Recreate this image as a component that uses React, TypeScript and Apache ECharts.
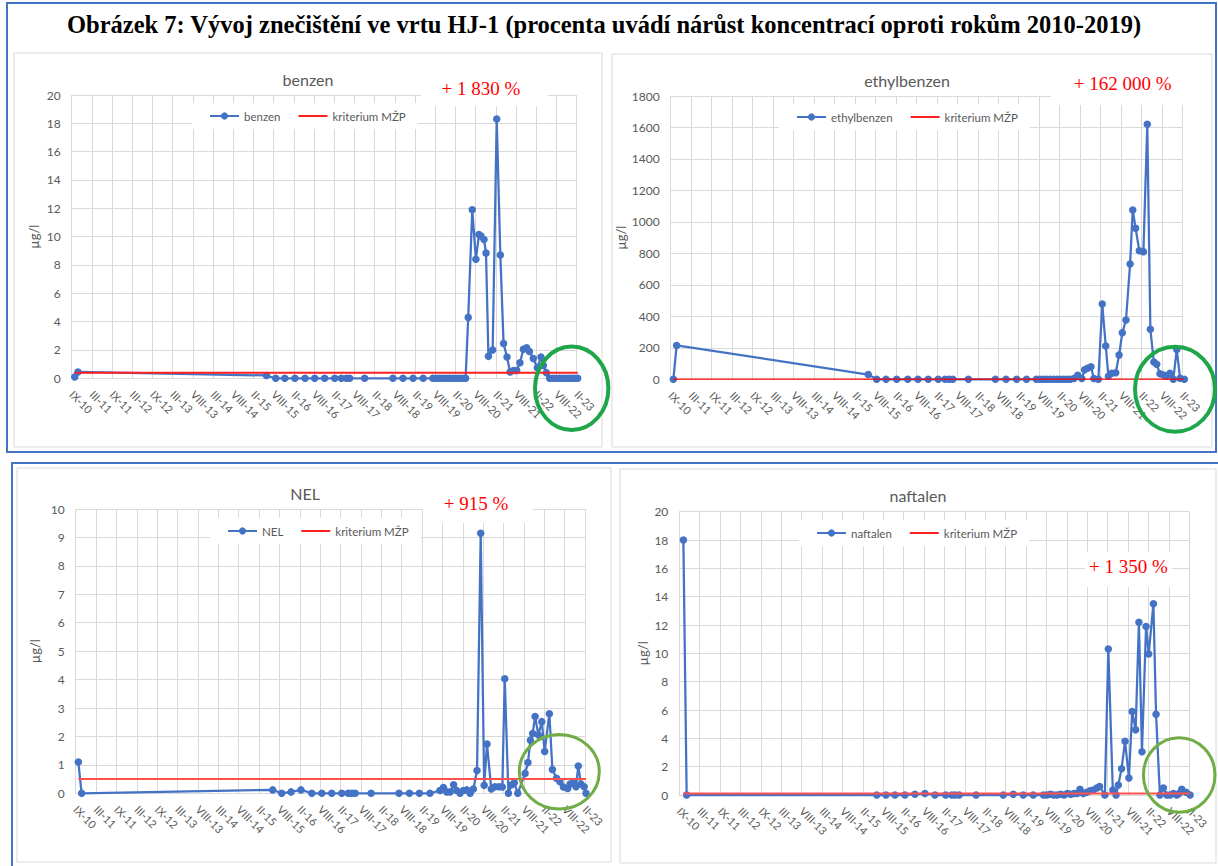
import React, { useEffect, useRef } from "react";
import * as echarts from "echarts";

// x tick labels (one per half-year step on the date axis)
const xTickLabels = [
  "IX-10", "III-11", "IX-11", "III-12", "IX-12", "III-13", "VIII-13", "III-14", "VIII-14",
  "II-15", "VIII-15", "II-16", "VIII-16", "II-17", "VIII-17", "II-18", "VIII-18", "II-19",
  "VIII-19", "II-20", "VIII-20", "II-21", "VIII-21", "II-22", "VIII-22", "II-23",
];

// [position on the date axis (tick units), concentration µg/l]
const benzen: [number, number][] = [
  [0.15, 0.1], [0.31, 0.45], [9.64, 0.2], [10.1, 0], [10.55, 0], [11.05, 0], [11.55, 0], [12.03, 0],
  [12.52, 0], [13.02, 0], [13.35, 0], [13.6, 0], [13.76, 0], [14.5, 0], [15.9, 0], [16.4, 0], [16.9, 0],
  [17.4, 0], [17.88, 0], [18.05, 0], [18.21, 0], [18.38, 0], [18.55, 0], [18.7, 0], [18.87, 0], [19.03, 0],
  [19.2, 0], [19.36, 0], [19.5, 0], [19.63, 4.3], [19.83, 11.9], [20.01, 8.4], [20.16, 10.15], [20.26, 10.05],
  [20.41, 9.8], [20.51, 8.85], [20.63, 1.55], [20.84, 2.0], [21.04, 18.3], [21.22, 8.7], [21.38, 2.45],
  [21.55, 1.5], [21.7, 0.45], [21.87, 0.55], [22.03, 0.55], [22.19, 1.1], [22.36, 2.05], [22.52, 2.15],
  [22.66, 1.9], [22.85, 1.4], [23.05, 0.75], [23.23, 1.5], [23.35, 0.9], [23.5, 0.4], [23.66, 0], [23.82, 0],
  [23.98, 0], [24.15, 0], [24.3, 0], [24.45, 0], [24.6, 0], [24.75, 0], [24.9, 0], [25.05, 0],
];

const ethylbenzen: [number, number][] = [
  [0.13, 0], [0.29, 215], [9.65, 30], [10.06, 0], [10.52, 0], [11.04, 0], [11.58, 0], [12.08, 0], [12.58, 0],
  [13.07, 0], [13.4, 0], [13.6, 0], [13.78, 0], [14.54, 0], [15.86, 0], [16.38, 0], [16.9, 0], [17.38, 0],
  [17.86, 0], [18.03, 0], [18.2, 0], [18.37, 0], [18.53, 0], [18.7, 0], [18.87, 0], [19.03, 0], [19.2, 0],
  [19.36, 0], [19.52, 0], [19.7, 5], [19.88, 25], [20.08, 5], [20.22, 60], [20.36, 70], [20.53, 80],
  [20.67, 5], [20.89, 0], [21.08, 478], [21.25, 212], [21.38, 20], [21.54, 38], [21.74, 42], [21.9, 154],
  [22.06, 296], [22.24, 377], [22.44, 733], [22.57, 1076], [22.71, 959], [22.89, 817], [23.09, 811],
  [23.28, 1620], [23.43, 318], [23.6, 110], [23.74, 95], [23.9, 35], [24.07, 27], [24.23, 21], [24.39, 38],
  [24.55, 0], [24.72, 190], [24.88, 6], [25.09, 0],
];

const nel: [number, number][] = [
  [0.13, 1.1], [0.29, 0], [9.67, 0.12], [10.11, 0], [10.57, 0.05], [11.06, 0.12], [11.59, 0], [12.08, 0],
  [12.57, 0], [13.06, 0], [13.38, 0], [13.55, 0], [13.72, 0], [14.5, 0], [15.87, 0], [16.38, 0], [16.87, 0],
  [17.39, 0], [17.88, 0.1], [18.05, 0.2], [18.21, 0.05], [18.38, 0.05], [18.55, 0.3], [18.7, 0.1], [18.87, 0],
  [19.03, 0.1], [19.2, 0.12], [19.36, 0], [19.52, 0.15], [19.7, 0.8], [19.88, 9.15], [20.05, 0.28],
  [20.19, 1.73], [20.4, 0.15], [20.58, 0.23], [20.78, 0.23], [20.94, 0.22], [21.06, 4.03], [21.24, 0],
  [21.4, 0.3], [21.53, 0.37], [21.7, 0], [22.06, 0.7], [22.2, 1.08], [22.32, 1.87], [22.43, 2.1],
  [22.55, 2.7], [22.71, 2.05], [22.88, 2.52], [23.02, 1.47], [23.25, 2.8], [23.4, 0.84], [23.6, 0.53],
  [23.77, 0.41], [23.94, 0.22], [24.15, 0.17], [24.27, 0.33], [24.43, 0.41], [24.56, 0.23], [24.67, 0.96],
  [24.8, 0.33], [24.96, 0.23], [25.05, 0],
];

const naftalen: [number, number][] = [
  [0.2, 18.0], [0.36, 0], [9.68, 0], [10.13, 0], [10.57, 0], [11.06, 0], [11.55, 0.05], [12.04, 0.1],
  [12.53, 0], [13.06, 0], [13.36, 0], [13.52, 0], [13.72, 0], [14.55, 0], [15.88, 0], [16.37, 0.05],
  [16.86, 0], [17.35, 0], [17.85, 0], [18.02, 0], [18.19, 0.05], [18.36, 0], [18.52, 0], [18.69, 0.05],
  [18.86, 0], [19.02, 0.1], [19.19, 0.05], [19.35, 0.1], [19.5, 0.1], [19.64, 0.4], [19.8, 0.1],
  [19.97, 0.2], [20.14, 0.3], [20.3, 0.35], [20.47, 0.5], [20.6, 0.6], [20.86, 0], [21.03, 10.3],
  [21.25, 0.35], [21.41, 0], [21.52, 0.7], [21.68, 1.85], [21.85, 3.8], [22.04, 1.2], [22.2, 5.9],
  [22.37, 4.6], [22.53, 12.2], [22.68, 3.05], [22.88, 11.9], [23.01, 9.95], [23.24, 13.5], [23.37, 5.7],
  [23.56, 0], [23.73, 0.5], [23.9, 0], [24.06, 0], [24.22, 0.1], [24.39, 0], [24.5, 0.1], [24.63, 0.4],
  [24.84, 0.2], [25.04, 0],
];

// criterion (kriterium MŽP) values
const criteria = [0.4, 1, 0.5, 0.1];
const seriesNames = ["benzen", "ethylbenzen", "NEL", "naftalen"];
const increases = ["+ 1 830 %", "+ 162 000 %", "+ 915 %", "+ 1 350 %"];
const yMaxes = [20, 1800, 10, 20];
const ySteps = [2, 200, 1, 2];
const mainTitle =
  "Obrázek 7: Vývoj znečištění ve vrtu HJ-1 (procenta uvádí nárůst koncentrací oproti rokům 2010-2019)";
const critName = "kriterium MŽP";
const unitName = "µg/l";

const allData = [benzen, ethylbenzen, nel, naftalen];

// layout (positions / styles only)
const layout = [
  { gl: 71.7, gt: 95, gw: 505, gh: 283.3, nameGap: 31, lgL: 192, lgT: 103, critW: 2, critC: "#ff2020",
    panel: [14, 53, 588, 394], titleX: 308, titleY: 79,
    box: [421, 71, 127, 35], txt: [481, 88], ell: [571.7, 388.3, 36.7, 41.7], ellC: "#1fa64a", ellW: 4 },
  { gl: 670.7, gt: 96, gw: 511.8, gh: 283.3, nameGap: 39, lgL: 779, lgT: 104, critW: 1.2, critC: "#ff0000",
    panel: [612, 54, 600, 393], titleX: 907, titleY: 80,
    box: [1051, 68, 140, 37], txt: [1122.7, 83.3], ell: [1175, 389.2, 40, 42.5], ellC: "#1fa64a", ellW: 4 },
  { gl: 75.7, gt: 509, gw: 509.3, gh: 284.3, nameGap: 34, lgL: 210, lgT: 518, critW: 2, critC: "#ff5050",
    panel: [17, 468, 594, 394], titleX: 305, titleY: 493,
    box: [423, 488, 110, 35], txt: [476, 503.3], ell: [559.3, 771.7, 40, 37.3], ellC: "#70ad47", ellW: 3 },
  { gl: 679.3, gt: 511.7, gw: 510, gh: 283.3, nameGap: 30, lgL: 799, lgT: 520, critW: 2, critC: "#ff5050",
    panel: [620, 469, 596, 394], titleX: 918, titleY: 495,
    box: [1085, 552, 87, 35], txt: [1128.5, 566.7], ell: [1179.2, 775, 35.8, 37.3], ellC: "#70ad47", ellW: 3 },
];

const GREY = "#595959";
const GRID = "#d9d9d9";
const BLUE = "#4472c4";
const CLEAR = "rgba(0,0,0,0)";

export default function App() {
  const ref = useRef<HTMLDivElement>(null);
  useEffect(() => {
    const chart = echarts.init(ref.current!, null, { renderer: "svg" });
    const graphic: any[] = [];
    // frames
    graphic.push({ type: "rect", z: 1, shape: { x: 7, y: 3, width: 1209, height: 449 },
      style: { fill: "none", stroke: BLUE, lineWidth: 2 } });
    graphic.push({ type: "rect", z: 1, shape: { x: 12, y: 463, width: 1215, height: 420 },
      style: { fill: "none", stroke: BLUE, lineWidth: 2 } });
    graphic.push({ type: "text", z: 100, x: 604, y: 24,
      style: { text: mainTitle, fill: "#000", font: "bold 24.5px 'Liberation Serif'", textAlign: "center",
        textVerticalAlign: "middle", align: "center", verticalAlign: "middle" } });
    layout.forEach((l, i) => {
      graphic.push({ type: "rect", z: 1, shape: { x: l.panel[0], y: l.panel[1], width: l.panel[2], height: l.panel[3] },
        style: { fill: "none", stroke: GRID, lineWidth: 1 } });
      graphic.push({ type: "text", z: 100, x: l.titleX, y: l.titleY,
        style: { text: seriesNames[i], fill: GREY, font: "16px Lato", textAlign: "center", textVerticalAlign: "middle",
          align: "center", verticalAlign: "middle" } });
      graphic.push({ type: "rect", z: 90, shape: { x: l.box[0], y: l.box[1], width: l.box[2], height: l.box[3] },
        style: { fill: "#fff" } });
      graphic.push({ type: "text", z: 100, x: l.txt[0], y: l.txt[1],
        style: { text: increases[i], fill: "#ff0000", font: "19px 'Liberation Serif'", textAlign: "center",
          textVerticalAlign: "middle", align: "center", verticalAlign: "middle" } });
      graphic.push({ type: "ellipse", z: 110, shape: { cx: l.ell[0], cy: l.ell[1], rx: l.ell[2], ry: l.ell[3] },
        style: { fill: "none", stroke: l.ellC, lineWidth: l.ellW } });
    });

    const series: any[] = [];
    allData.forEach((d, i) => {
      const l = layout[i];
      series.push({
        type: "line", name: seriesNames[i], xAxisIndex: i, yAxisIndex: i, data: d,
        symbol: "circle", symbolSize: 7.5, clip: false, z: 3,
        lineStyle: { color: BLUE, width: 2.25 }, itemStyle: { color: BLUE },
      });
      series.push({
        type: "line", name: critName, xAxisIndex: i, yAxisIndex: i,
        data: [[d[0][0], criteria[i]], [d[d.length - 1][0], criteria[i]]],
        symbol: "none", clip: false, z: 4,
        lineStyle: { color: l.critC, width: l.critW }, itemStyle: { color: l.critC },
      });
    });

    chart.setOption({
      animation: false,
      backgroundColor: "#fff",
      grid: layout.map((l) => ({ left: l.gl, top: l.gt, width: l.gw, height: l.gh, containLabel: false })),
      xAxis: layout.map((l, i) => ({
        type: "value", gridIndex: i, min: 0, max: 25, interval: 1,
        axisLine: { show: true, lineStyle: { color: GRID } }, axisTick: { show: false },
        splitLine: { show: true, lineStyle: { color: GRID, width: 1 } },
        axisLabel: {
          formatter: (v: number) => xTickLabels[Math.round(v)] ?? "", rotate: -45, color: GREY,
          fontSize: 11, fontFamily: "Lato", margin: 14, showMinLabel: true, showMaxLabel: true, hideOverlap: false,
        },
      })),
      yAxis: layout.map((l, i) => ({
        type: "value", gridIndex: i, min: 0, max: yMaxes[i], interval: ySteps[i],
        axisLine: { show: false }, axisTick: { show: false },
        splitLine: { show: true, lineStyle: { color: GRID, width: 1 } },
        axisLabel: { color: GREY, fontSize: 12, fontFamily: "Lato", margin: 11, formatter: (v: number) => String(v) },
        name: unitName, nameLocation: "middle", nameGap: l.nameGap,
        nameTextStyle: { color: GREY, fontSize: 13, fontFamily: "Lato" },
      })),
      legend: layout.map((l, i) => ({
        left: l.lgL, top: l.lgT,
        data: [seriesNames[i], { name: critName, itemStyle: { color: CLEAR, borderColor: CLEAR, borderWidth: 0 } }],
        backgroundColor: "#fff",
        padding: [7, 12, 7, 17], itemGap: 17, itemWidth: 29, itemHeight: 9, selectedMode: false,
        textStyle: { color: GREY, fontSize: 11.5, fontFamily: "Lato" },
      })),
      series,
      graphic,
    });
    return () => chart.dispose();
  }, []);
  return (
    <div
      ref={ref}
      style={{ position: "absolute", left: 0, top: 0, width: 1218, height: 866, background: "#fff" }}
    />
  );
}
